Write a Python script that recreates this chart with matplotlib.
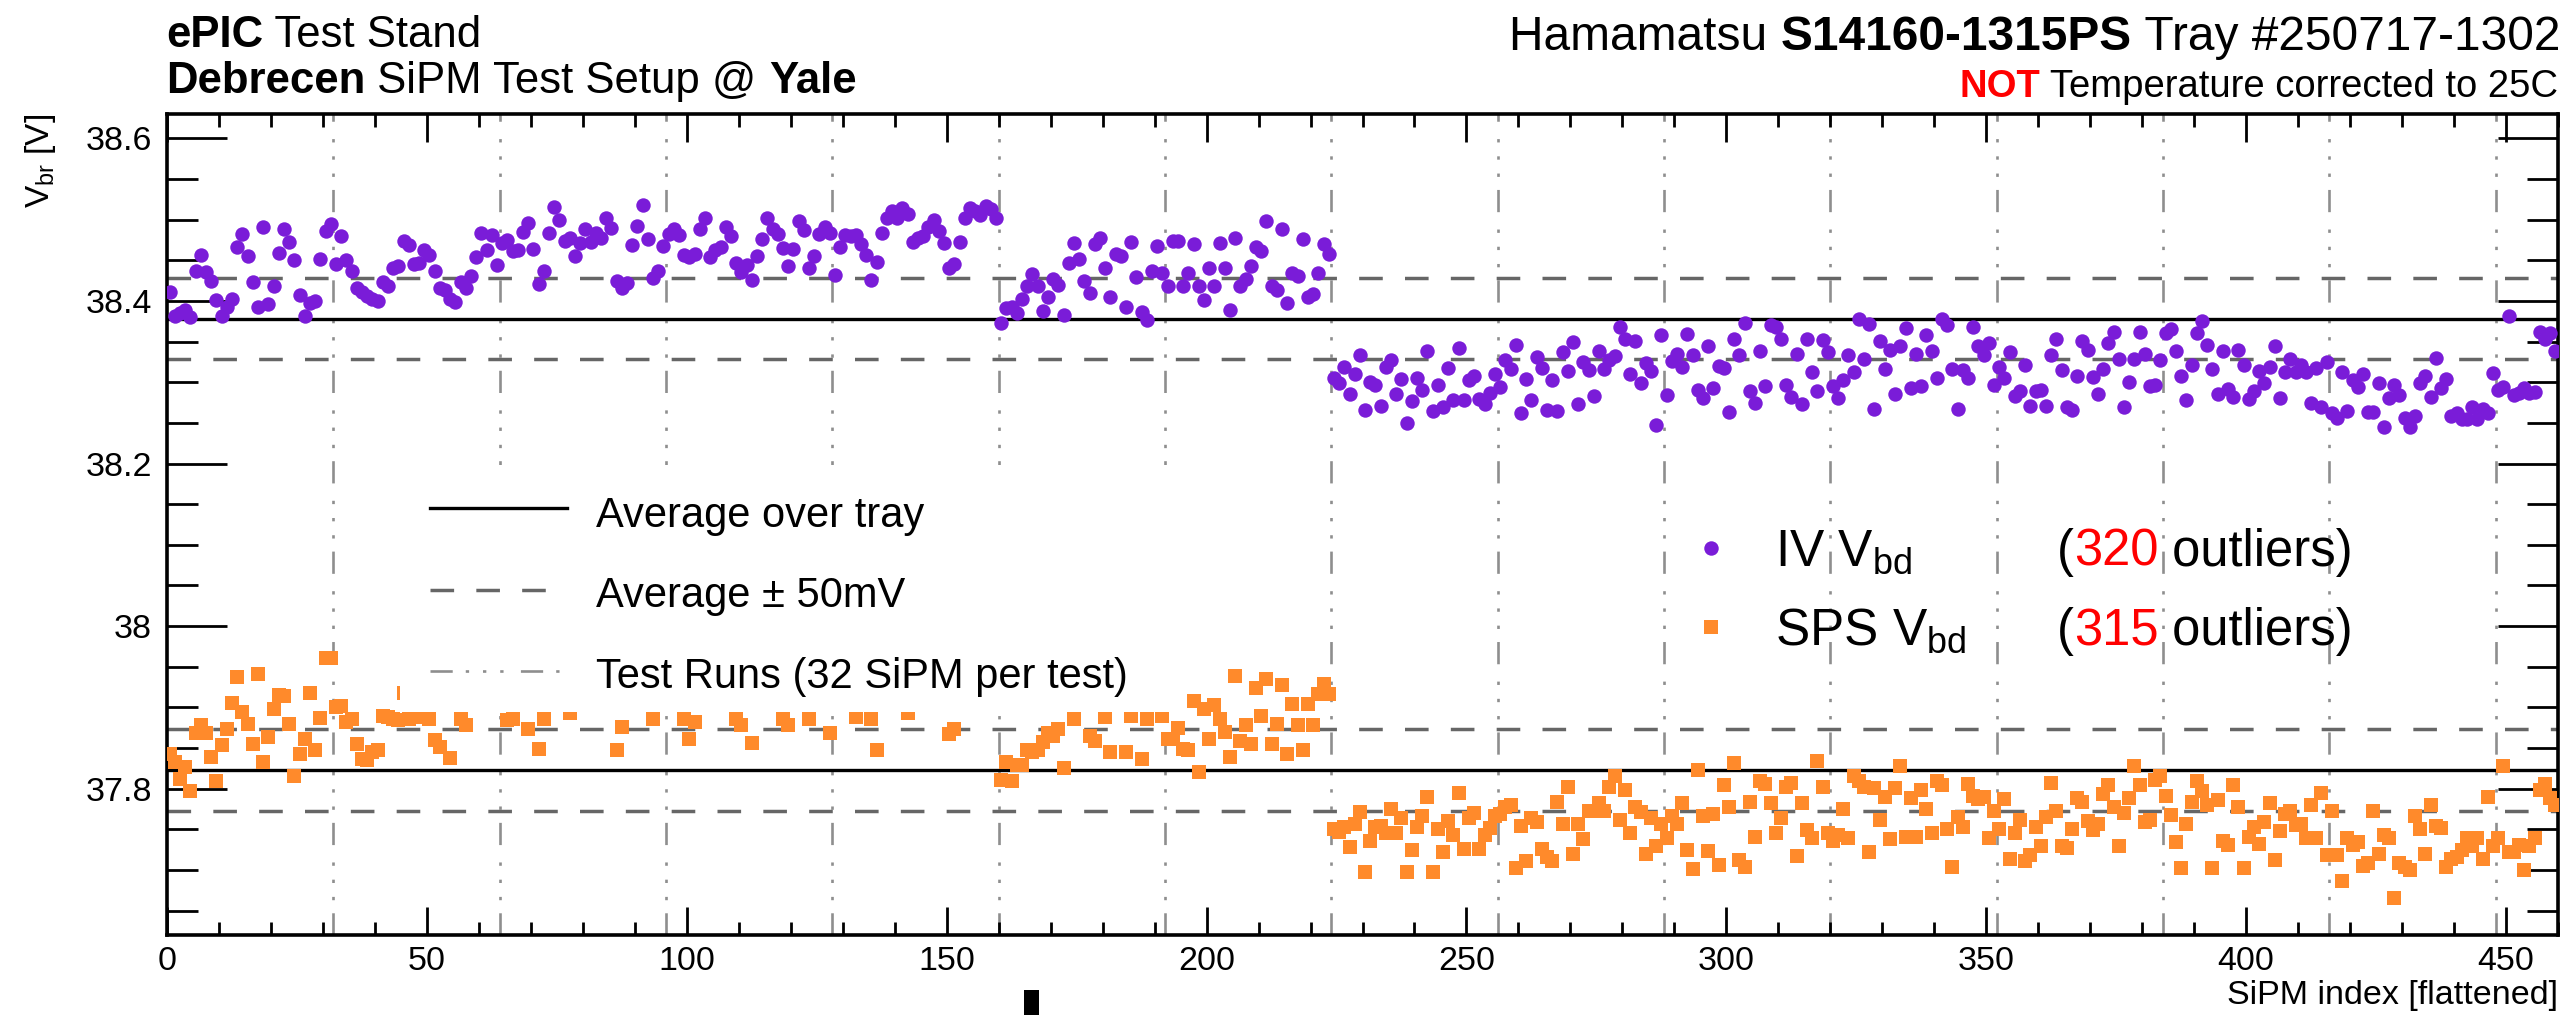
import matplotlib
matplotlib.use("Agg")
import matplotlib.pyplot as plt
from matplotlib.ticker import MultipleLocator, FuncFormatter
from matplotlib.lines import Line2D
from matplotlib.patches import Rectangle
import numpy as np

W, H = 2572, 1015
plt.rcParams["font.family"] = ["Liberation Sans", "DejaVu Sans"]
plt.rcParams["mathtext.fontset"] = "custom"
plt.rcParams["mathtext.rm"] = "Liberation Sans"
plt.rcParams["mathtext.it"] = "Liberation Sans:italic"
plt.rcParams["mathtext.bf"] = "Liberation Sans:bold"
plt.rcParams["lines.scale_dashes"] = False

# ---------------- data (V) ----------------
iv_vbd_first = [
    38.411, 38.382, 38.385, 38.389, 38.380, 38.437, 38.457, 38.436, 38.425, 38.401,
    38.382, 38.393, 38.402, 38.466, 38.482, 38.455, 38.423, 38.393, 38.491, 38.396,
    38.418, 38.459, 38.489, 38.472, 38.450, 38.407, 38.382, 38.397, 38.400, 38.452,
    38.486, 38.495, 38.445, 38.480, 38.450, 38.437, 38.416, 38.411, 38.406, 38.402,
    38.400, 38.423, 38.418, 38.440, 38.443, 38.474, 38.469, 38.445, 38.447, 38.463,
    38.457, 38.437, 38.416, 38.414, 38.403, 38.399, 38.423, 38.416, 38.431, 38.454,
    38.484, 38.463, 38.481, 38.444, 38.471, 38.475, 38.461, 38.463, 38.485, 38.496,
    38.464, 38.421, 38.437, 38.484, 38.515, 38.499, 38.474, 38.477, 38.455, 38.471,
    38.488, 38.473, 38.483, 38.478, 38.502, 38.490, 38.425, 38.416, 38.422, 38.469,
    38.492, 38.518, 38.476, 38.428, 38.437, 38.468, 38.482, 38.489, 38.481, 38.457,
    38.454, 38.458, 38.488, 38.502, 38.454, 38.463, 38.466, 38.491, 38.480, 38.447,
    38.436, 38.444, 38.426, 38.455, 38.476, 38.502, 38.488, 38.482, 38.465, 38.443,
    38.464, 38.498, 38.487, 38.440, 38.455, 38.482, 38.491, 38.484, 38.432, 38.466,
    38.481, 38.480, 38.481, 38.470, 38.457, 38.426, 38.448, 38.484, 38.502, 38.511,
    38.502, 38.514, 38.507, 38.473, 38.478, 38.480, 38.491, 38.500, 38.486, 38.471,
    38.441, 38.445, 38.473, 38.502, 38.514, 38.511, 38.506, 38.517, 38.513, 38.502,
    38.373, 38.391, 38.392, 38.385, 38.403, 38.418, 38.433, 38.418, 38.388, 38.405,
    38.427, 38.420, 38.383, 38.447, 38.471, 38.452, 38.424, 38.410, 38.470, 38.478,
    38.440, 38.405, 38.458, 38.455, 38.392, 38.472, 38.430, 38.386, 38.376, 38.437,
    38.468, 38.435, 38.418, 38.474, 38.474, 38.418, 38.435, 38.470, 38.418, 38.401,
    38.441, 38.418, 38.471, 38.440, 38.389, 38.478, 38.418, 38.427, 38.443, 38.466,
    38.462, 38.498, 38.418, 38.414, 38.489, 38.398, 38.435, 38.431, 38.476, 38.405,
    38.409, 38.435, 38.470, 38.458,
]
iv_vbd_second = [
    38.305, 38.299, 38.319, 38.285, 38.310, 38.334, 38.266, 38.300, 38.296, 38.271,
    38.319, 38.327, 38.285, 38.304, 38.250, 38.277, 38.305, 38.291, 38.338, 38.265,
    38.297, 38.269, 38.317, 38.278, 38.342, 38.278, 38.303, 38.308, 38.279, 38.273,
    38.287, 38.310, 38.294, 38.327, 38.316, 38.346, 38.262, 38.304, 38.278, 38.331,
    38.317, 38.266, 38.303, 38.265, 38.337, 38.314, 38.350, 38.273, 38.325, 38.315,
    38.283, 38.339, 38.316, 38.327, 38.332, 38.368, 38.353, 38.310, 38.351, 38.299,
    38.324, 38.314, 38.248, 38.358, 38.284, 38.326, 38.335, 38.319, 38.359, 38.333,
    38.291, 38.281, 38.345, 38.293, 38.320, 38.317, 38.264, 38.353, 38.334, 38.373,
    38.289, 38.274, 38.338, 38.295, 38.370, 38.368, 38.353, 38.297, 38.282, 38.335,
    38.273, 38.353, 38.312, 38.289, 38.352, 38.337, 38.295, 38.281, 38.303, 38.334,
    38.312, 38.378, 38.329, 38.372, 38.267, 38.351, 38.316, 38.340, 38.286, 38.345,
    38.367, 38.293, 38.335, 38.295, 38.358, 38.339, 38.305, 38.378, 38.371, 38.316,
    38.267, 38.315, 38.305, 38.368, 38.344, 38.334, 38.348, 38.297, 38.319, 38.305,
    38.337, 38.283, 38.289, 38.321, 38.271, 38.289, 38.291, 38.271, 38.334, 38.353,
    38.315, 38.269, 38.266, 38.308, 38.351, 38.340, 38.307, 38.285, 38.316, 38.348,
    38.362, 38.329, 38.269, 38.300, 38.329, 38.362, 38.335, 38.295, 38.296, 38.327,
    38.361, 38.366, 38.339, 38.308, 38.278, 38.321, 38.360, 38.375, 38.346, 38.316,
    38.286, 38.338, 38.292, 38.282, 38.340, 38.321, 38.280, 38.289, 38.314, 38.299,
    38.319, 38.345, 38.281, 38.312, 38.328, 38.312, 38.321, 38.312, 38.274, 38.317,
    38.270, 38.325, 38.262, 38.256, 38.312, 38.265, 38.303, 38.294, 38.310, 38.263,
    38.263, 38.299, 38.245, 38.281, 38.296, 38.284, 38.256, 38.245, 38.258, 38.299,
    38.308, 38.282, 38.330, 38.293, 38.304, 38.259, 38.262, 38.255, 38.255, 38.269,
    38.255, 38.267, 38.262, 38.311, 38.291, 38.294, 38.382, 38.284, 38.287, 38.293,
    38.287, 38.288, 38.362, 38.353, 38.360, 38.338,
]
sps_vbd_first = [
    37.843, 37.833, 37.812, 37.827, 37.797, 37.869, 37.878, 37.869, 37.839, 37.809,
    37.854, 37.873, 37.906, 37.937, 37.894, 37.880, 37.855, 37.941, 37.833, 37.864,
    37.898, 37.915, 37.914, 37.880, 37.816, 37.843, 37.861, 37.918, 37.848, 37.887,
    37.961, 37.961, 37.900, 37.902, 37.882, 37.886, 37.855, 37.837, 37.835, 37.845,
    37.847, 37.890, 37.888, 37.886, 37.884, 37.918, 37.886, 37.915, 37.888, 37.925,
    37.886, 37.860, 37.851, 37.920, 37.838, 37.905, 37.886, 37.878, 37.930, 37.910,
    37.925, 37.905, 37.940, 37.915, 37.920, 37.884, 37.886, 37.905, 37.925, 37.873,
    37.915, 37.849, 37.886, 37.930, 37.910, 37.940, 37.915, 37.893, 37.920, 37.935,
    37.905, 37.925, 37.912, 37.940, 37.918, 37.905, 37.847, 37.876, 37.930, 37.910,
    37.925, 37.905, 37.935, 37.886, 37.915, 37.928, 37.915, 37.930, 37.908, 37.886,
    37.861, 37.882, 37.925, 37.910, 37.935, 37.905, 37.920, 37.940, 37.912, 37.886,
    37.878, 37.925, 37.856, 37.915, 37.930, 37.905, 37.920, 37.910, 37.886, 37.878,
    37.935, 37.915, 37.925, 37.886, 37.905, 37.930, 37.912, 37.869, 37.925, 37.910,
    37.935, 37.905, 37.888, 37.920, 37.915, 37.886, 37.847, 37.930, 37.910, 37.925,
    37.940, 37.905, 37.893, 37.920, 37.935, 37.910, 37.925, 37.905, 37.930, 37.915,
    37.867, 37.873, 37.920, 37.940, 37.910, 37.925, 37.905, 37.930, 37.915, 37.935,
    37.811, 37.833, 37.810, 37.829, 37.829, 37.848, 37.845, 37.847, 37.857, 37.869,
    37.865, 37.873, 37.825, 37.905, 37.886, 37.920, 37.910, 37.865, 37.859, 37.930,
    37.888, 37.845, 37.912, 37.925, 37.845, 37.890, 37.915, 37.837, 37.886, 37.905,
    37.920, 37.890, 37.861, 37.861, 37.875, 37.849, 37.847, 37.908, 37.820, 37.898,
    37.861, 37.903, 37.886, 37.870, 37.839, 37.939, 37.859, 37.878, 37.855, 37.924,
    37.890, 37.935, 37.855, 37.880, 37.927, 37.843, 37.904, 37.878, 37.847, 37.904,
    37.878, 37.916, 37.929, 37.916,
]
sps_vbd_second = [
    37.751, 37.747, 37.753, 37.728, 37.757, 37.771, 37.698, 37.736, 37.753, 37.754,
    37.745, 37.775, 37.745, 37.764, 37.698, 37.724, 37.753, 37.767, 37.790, 37.698,
    37.751, 37.722, 37.760, 37.743, 37.795, 37.726, 37.764, 37.770, 37.726, 37.743,
    37.752, 37.767, 37.769, 37.777, 37.780, 37.702, 37.754, 37.711, 37.764, 37.759,
    37.726, 37.716, 37.711, 37.784, 37.756, 37.802, 37.720, 37.757, 37.738, 37.772,
    37.772, 37.782, 37.772, 37.802, 37.816, 37.762, 37.798, 37.745, 37.777, 37.771,
    37.720, 37.764, 37.730, 37.757, 37.739, 37.766, 37.757, 37.782, 37.724, 37.701,
    37.823, 37.767, 37.723, 37.769, 37.706, 37.805, 37.777, 37.831, 37.712, 37.704,
    37.784, 37.741, 37.809, 37.806, 37.783, 37.745, 37.764, 37.802, 37.807, 37.717,
    37.783, 37.749, 37.739, 37.834, 37.802, 37.746, 37.736, 37.743, 37.775, 37.739,
    37.816, 37.810, 37.802, 37.722, 37.801, 37.761, 37.790, 37.738, 37.801, 37.828,
    37.741, 37.788, 37.741, 37.798, 37.775, 37.745, 37.810, 37.804, 37.750, 37.704,
    37.765, 37.753, 37.806, 37.791, 37.787, 37.790, 37.739, 37.772, 37.750, 37.787,
    37.713, 37.745, 37.761, 37.711, 37.718, 37.753, 37.730, 37.765, 37.807, 37.772,
    37.730, 37.727, 37.750, 37.789, 37.784, 37.760, 37.749, 37.757, 37.794, 37.804,
    37.777, 37.730, 37.770, 37.789, 37.828, 37.804, 37.759, 37.761, 37.811, 37.816,
    37.791, 37.768, 37.735, 37.702, 37.757, 37.784, 37.809, 37.797, 37.780, 37.702,
    37.786, 37.736, 37.731, 37.804, 37.777, 37.702, 37.741, 37.753, 37.732, 37.759,
    37.783, 37.712, 37.748, 37.769, 37.773, 37.755, 37.757, 37.739, 37.780, 37.739,
    37.795, 37.718, 37.773, 37.718, 37.686, 37.739, 37.731, 37.734, 37.705, 37.708,
    37.773, 37.720, 37.743, 37.739, 37.665, 37.708, 37.704, 37.700, 37.767, 37.750,
    37.720, 37.780, 37.754, 37.752, 37.704, 37.714, 37.716, 37.724, 37.739, 37.730,
    37.739, 37.714, 37.790, 37.730, 37.739, 37.828, 37.722, 37.722, 37.731, 37.700,
    37.730, 37.739, 37.798, 37.806, 37.789, 37.780,
]
iv_avg = 38.378
sps_avg = 37.823
band = 0.05
run_size = 32
iv_outliers = 320
sps_outliers = 315
x_range = (0, 460)
y_range = (37.62, 38.63)

# ---------------- figure ----------------
def fx(px):
    return px / W

def fy(py):
    return 1 - py / H

iv = np.array(iv_vbd_first + iv_vbd_second)
sps = np.array(sps_vbd_first + sps_vbd_second)
idx = np.arange(len(iv)) + 0.5

fig = plt.figure(figsize=(W / 100, H / 100), dpi=100)
ax = fig.add_axes([fx(167), fy(935), (2558 - 167) / W, (935 - 114) / H])
ax.set_xlim(*x_range)
ax.set_ylim(*y_range)

PURPLE = "#7a1cd8"
ORANGE = "#ff8a2b"
RUN_COLOR = "#8e8e8e"
RUN_STYLE = (0, (16, 9.4, 2.4, 10, 2.4, 10, 2.4, 12.5))
BAND_STYLE = (0, (17, 16))

for k in range(run_size, len(iv), run_size):
    ax.axvline(k, color=RUN_COLOR, lw=1.9, ls=RUN_STYLE, zorder=1)

for avg in (iv_avg, sps_avg):
    ax.axhline(avg, color="black", lw=2.4, zorder=2)
    ax.axhline(avg + band, color="#666666", lw=2.5, ls=BAND_STYLE, zorder=2)
    ax.axhline(avg - band, color="#666666", lw=2.5, ls=BAND_STYLE, zorder=2)

ax.scatter(idx, iv, s=108, marker="o", color=PURPLE, linewidths=0, zorder=3)
ax.scatter(idx, sps, s=98, marker="s", color=ORANGE, linewidths=0, zorder=3)

ax.xaxis.set_major_locator(MultipleLocator(50))
ax.xaxis.set_minor_locator(MultipleLocator(10))
ax.yaxis.set_major_locator(MultipleLocator(0.2))
ax.yaxis.set_minor_locator(MultipleLocator(0.05))
ax.yaxis.set_major_formatter(FuncFormatter(lambda v, p: f"{v:g}"))
ax.tick_params(which="both", direction="in", top=True, right=True, width=2.0, color="black")
ax.tick_params(axis="x", which="major", length=20, pad=8, labelsize=24.5)
ax.tick_params(axis="x", which="minor", length=9.5)
ax.tick_params(axis="y", which="major", length=43, pad=11, labelsize=24.5)
ax.tick_params(axis="y", which="minor", length=22)
for s in ax.spines.values():
    s.set_linewidth(2.6)

# legend box (white, covers points)
ax.add_patch(Rectangle((0.0974, 0.2713), 0.4216 - 0.0974, 0.573 - 0.2713,
                       transform=ax.transAxes, facecolor="white", edgecolor="none", zorder=4))
leg_rows = [(508, 527, "Average over tray", dict(color="black", lw=2.4)),
            (590, 607, "Average \u00b1 50mV", dict(color="#666666", lw=2.5, ls=BAND_STYLE)),
            (671, 688, "Test Runs (32 SiPM per test)", dict(color=RUN_COLOR, lw=1.9, ls=RUN_STYLE))]
for ly, tb, label, style in leg_rows:
    fig.add_artist(Line2D([fx(430), fx(567)], [fy(ly), fy(ly)], zorder=5, **style))
    fig.text(fx(596), fy(tb), label, fontsize=30, va="baseline", ha="left")

renderer = fig.canvas.get_renderer()

def advance(s, size, weight):
    a = fig.text(0, 0, s + "I", fontsize=size, fontweight=weight)
    b = fig.text(0, 0, "I", fontsize=size, fontweight=weight)
    w = a.get_window_extent(renderer).width - b.get_window_extent(renderer).width
    a.remove()
    b.remove()
    return w

def rich(x, y, parts, size, ha="left"):
    advs = [advance(s, size, wt) for s, wt, c in parts]
    x0 = x - sum(advs) if ha == "right" else x
    for (s, wt, c), a in zip(parts, advs):
        fig.text(fx(x0), fy(y), s, fontsize=size, fontweight=wt, color=c,
                 va="baseline", ha="left")
        x0 += a

# titles
rich(166, 47, [("ePIC", "bold", "black"), (" Test Stand", "normal", "black")], 31.5)
rich(166, 93, [("Debrecen", "bold", "black"), (" SiPM Test Setup @ ", "normal", "black"),
               ("Yale", "bold", "black")], 31.5)
rich(2560, 50, [("Hamamatsu ", "normal", "black"), ("S14160-1315PS", "bold", "black"),
                (" Tray #250717-1302", "normal", "black")], 34.5, ha="right")
rich(2558, 97, [("NOT", "bold", "#ff0000"), (" Temperature corrected to 25C", "normal", "black")],
     27.5, ha="right")

# right legend
fig.add_artist(Line2D([fx(1711)], [fy(548)], marker="o", ms=10.4, color=PURPLE, ls="none", mew=0))
fig.add_artist(Line2D([fx(1711)], [fy(627)], marker="s", ms=9.9, color=ORANGE, ls="none", mew=0))
fig.text(fx(1775), fy(566), r"IV V$_{\rm bd}$", fontsize=37, va="baseline")
fig.text(fx(1775), fy(645), r"SPS V$_{\rm bd}$", fontsize=37, va="baseline")
rich(2057, 566, [("(", "normal", "black"), (str(iv_outliers), "normal", "#ff0000"),
                 (" outliers)", "normal", "black")], 36.5)
rich(2057, 645, [("(", "normal", "black"), (str(sps_outliers), "normal", "#ff0000"),
                 (" outliers)", "normal", "black")], 36.5)

# axis titles
fig.text(fx(40), fy(114), r"V$_{\rm br}$ [V]", rotation=90, ha="center", va="top", fontsize=24)
fig.text(fx(2558), fy(1004), "SiPM index [flattened]", ha="right", va="baseline", fontsize=24.5)

# small black artifact below the axis
fig.add_artist(Rectangle((fx(1024), fy(1015)), 15 / W, 25 / H, transform=fig.transFigure,
                         facecolor="black", edgecolor="none"))

fig.savefig("out.png", dpi=100)
